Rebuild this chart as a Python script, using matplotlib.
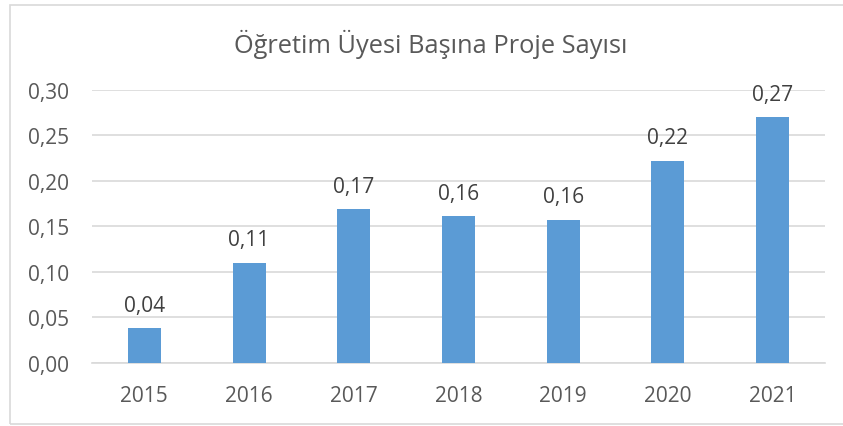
import numpy as np
import matplotlib.pyplot as plt
from matplotlib.patches import Rectangle

# data
years = ['2015', '2016', '2017', '2018', '2019', '2020', '2021']
values = [0.038, 0.110, 0.169, 0.161, 0.157, 0.222, 0.270]
yticks = [0.00, 0.05, 0.10, 0.15, 0.20, 0.25, 0.30]
title = 'Öğretim Üyesi Başına Proje Sayısı'

plt.rcParams['font.family'] = ['Open Sans', 'DejaVu Sans']

fig = plt.figure(figsize=(8.43, 4.27), dpi=100)
ax = fig.add_axes([92 / 843, 1 - 363.7 / 427, (825 - 92) / 843, (363.7 - 91) / 427])

# light frame around the chart like the excel export
fig.patches.append(Rectangle((10 / 843, 2 / 427), 1.2, (423 - 4) / 427,
                             transform=fig.transFigure, fill=False,
                             edgecolor='#d9d9d9', linewidth=1.2))

x = np.arange(len(years))
ax.bar(x, values, width=0.315, color='#5b9bd5', zorder=3)

# value labels above bars
for xi, v in zip(x, values):
    ax.annotate(('%.2f' % v).replace('.', ','), (xi, v), xytext=(0, 9),
                textcoords='offset points', ha='center', va='bottom',
                fontsize=15, color='#404040')

ax.set_xlim(-0.5, len(years) - 0.5)
ax.set_ylim(0, 0.30)
ax.set_xticks(x)
ax.set_xticklabels(years)
ax.set_yticks(yticks)
ax.set_yticklabels([('%.2f' % t).replace('.', ',') for t in yticks])
ax.tick_params(axis='both', length=0, labelsize=15, labelcolor='#595959')
ax.tick_params(axis='y', pad=16.5)
ax.tick_params(axis='x', pad=16)

ax.grid(axis='y', color='#d9d9d9', linewidth=1.2, zorder=0)
for s in ['top', 'right', 'left']:
    ax.spines[s].set_visible(False)
ax.spines['bottom'].set_color('#d9d9d9')
ax.spines['bottom'].set_linewidth(1.2)

fig.text(431 / 843, 1 - 44 / 427, title, ha='center', va='center',
         fontsize=18.3, color='#595959')

plt.savefig('out.png', dpi=100)
